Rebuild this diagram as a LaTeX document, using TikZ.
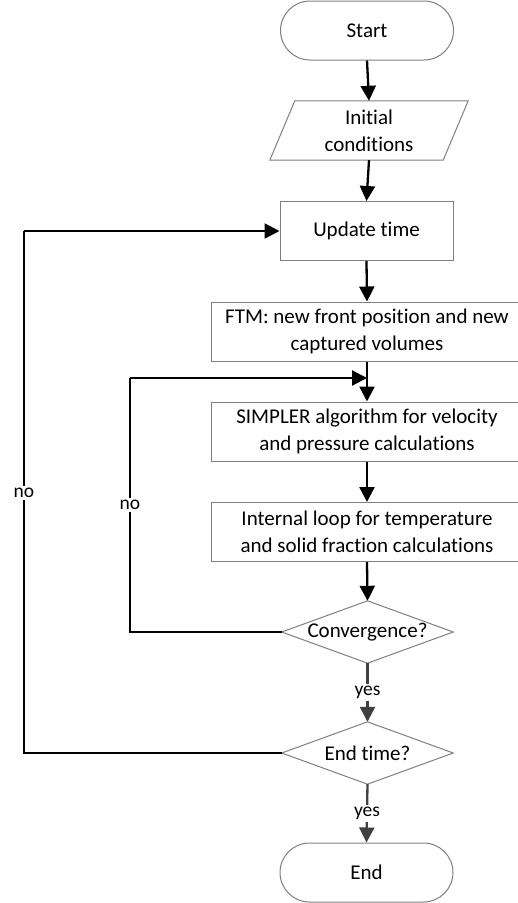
\documentclass[tikz,border=0pt]{standalone}
\usepackage{fontspec}
\setmainfont{Carlito}[Ligatures={NoCommon}]
\usetikzlibrary{arrows.meta}
\definecolor{boxgray}{HTML}{7F7F7F}
\definecolor{arrgray}{HTML}{404040}
\begin{document}
\begin{tikzpicture}[x=1pt,y=-1pt,
  every node/.style={font=\fontsize{21}{27}\selectfont, align=center, inner sep=0pt, text=black},
  proc/.style={draw=boxgray, line width=1pt, minimum height=59pt},
  term/.style={draw=boxgray, line width=1pt, minimum height=59pt, minimum width=173pt, rounded corners=29.5pt},
  dec/.style={minimum width=171pt, minimum height=62pt},
  conn/.style={line width=2.3pt, black, -{Triangle[length=15pt,width=15pt]}},
  yesconn/.style={line width=2.3pt, arrgray, -{Triangle[length=15pt,width=15pt]}},
  lbl/.style={font=\fontsize{19.5}{23}\selectfont, fill=white, inner sep=2pt, text=black},
  loopline/.style={line width=2.3pt, black}
]
\useasboundingbox (0,0) rectangle (518,903);
\clip (0,0) rectangle (518,903);
% nodes
\node[term] (start) at (367,30.5) {Start};
\node[minimum width=198pt, minimum height=59pt] (init) at (369,130.5) {Initial\\conditions};
\draw[boxgray, line width=1pt] ([xshift=25pt]init.north west) -- (init.north east) -- ([xshift=-25pt]init.south east) -- (init.south west) -- cycle;
\node[proc, minimum width=173pt] (upd) at (366.5,231) {Update time};
\node[proc, minimum width=312pt] (ftm) at (367,331.5) {FTM: new front position and new\\captured volumes};
\node[proc, minimum width=312pt] (simp) at (367,431.5) {SIMPLER algorithm for velocity\\and pressure calculations};
\node[proc, minimum width=312pt] (intl) at (367,532) {Internal loop for temperature\\and solid fraction calculations};
\node[dec] (conv) at (367.5,632) {Convergence?};
\draw[boxgray, line width=1pt] (conv.north) -- (conv.east) -- (conv.south) -- (conv.west) -- cycle;
\node[dec] (endt) at (367.5,753) {End time?};
\draw[boxgray, line width=1pt] (endt.north) -- (endt.east) -- (endt.south) -- (endt.west) -- cycle;
\node[term] (end) at (366.5,872.5) {End};
% connectors
\draw[conn] (start.south) -- (init.north);
\draw[conn] (init.south) -- (upd.north);
\draw[conn] (upd.south) -- (ftm.north);
\draw[conn] (ftm.south) -- (simp.north);
\draw[conn] (simp.south) -- (intl.north);
\draw[conn] (intl.south) -- (conv.north);
\draw[yesconn] (conv.south) -- node[lbl] {yes} (endt.north);
\draw[yesconn] (endt.south) -- node[lbl] {yes} (end.north);
% loops
\coordinate (join) at (367,378);
\coordinate (innerA) at (130,632);
\coordinate (innerB) at (130,378);
\draw[loopline] (conv.west) -- (innerA) -- (innerB);
\draw[conn] (innerB) -- (join);
\node[lbl] (noin) at (130,505) {no};
\coordinate (outerA) at (24,753);
\coordinate (outerB) at (24,231);
\draw[loopline] (endt.west) -- (outerA) -- (outerB);
\draw[conn] (outerB) -- (upd.west);
\node[lbl] (noout) at (24,493) {no};
\end{tikzpicture}
\end{document}
